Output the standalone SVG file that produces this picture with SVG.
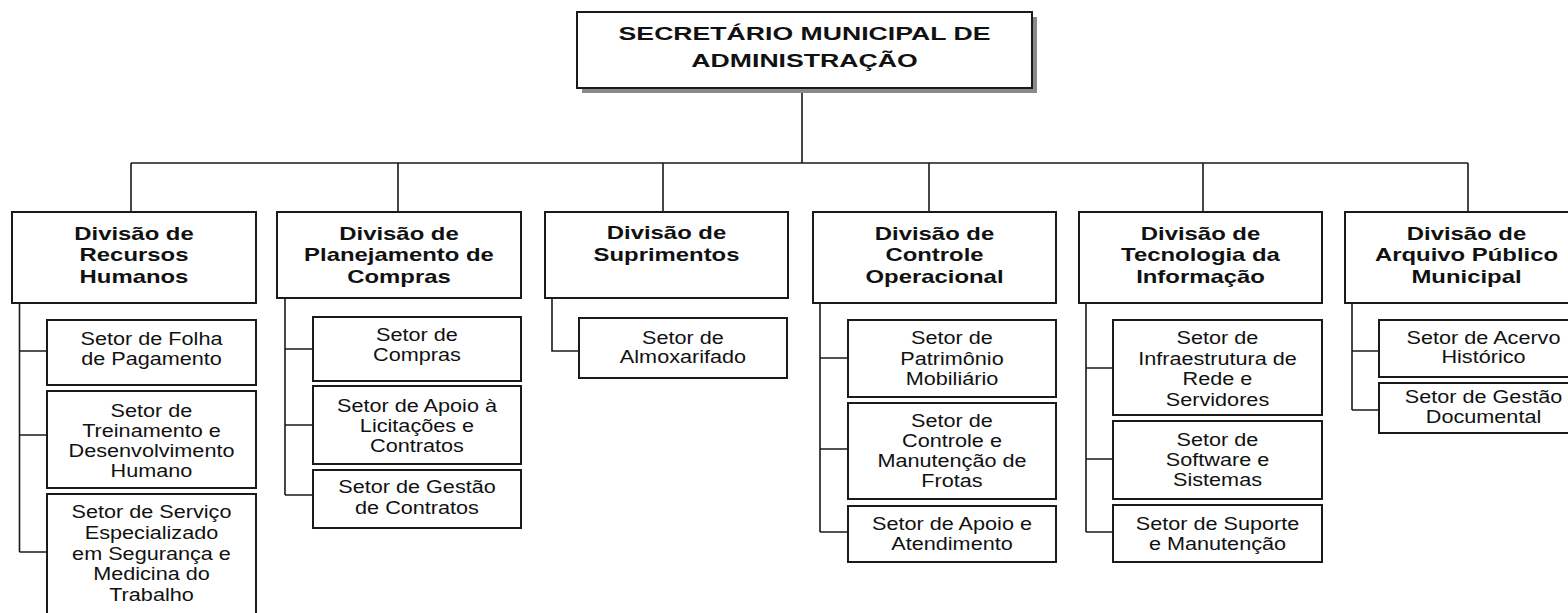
<svg xmlns="http://www.w3.org/2000/svg" width="1568" height="613" viewBox="0 0 1568 613">
<style>
.box{fill:#fff;stroke:#1a1a1a;stroke-width:2}
.shadow{fill:#8a8a8a}
.ln{stroke:#1a1a1a;stroke-width:1.6;fill:none}
text{font-family:"Liberation Sans",Arial,sans-serif;text-anchor:middle;fill:#111}
.r{font-size:18.5px}
.b{font-size:17.7px;font-weight:bold}
.t{font-size:18.5px;font-weight:bold}
</style>
<rect width="1568" height="613" fill="#fff"/>
<g id="connectors">
<path class="ln" d="M802,88V163M131,163H1468M131,163V212M398,163V212M663,163V212M929,163V212M1203,163V212M1468,163V212"/>
<path class="ln" d="M19.5,303V552M19.5,351H47M19.5,435H47M19.5,552H47"/>
<path class="ln" d="M285,298V495M285,349H313M285,425H313M285,495H313"/>
<path class="ln" d="M552,298V351H579"/>
<path class="ln" d="M820,303V532M820,358H848M820,449H848M820,532H848"/>
<path class="ln" d="M1086,303V532M1086,368H1113M1086,459H1113M1086,532H1113"/>
<path class="ln" d="M1352,303V410M1352,351H1379M1352,410H1379"/>
</g>
<g id="secretario">
<rect class="shadow" x="582" y="17" width="455" height="76"/>
<rect class="box" x="577" y="12" width="455" height="76"/>
<g transform="translate(804.5,0) scale(1.44,1)"><text class="t"><tspan x="0" y="40">SECRETÁRIO MUNICIPAL DE</tspan><tspan x="0" y="67">ADMINISTRAÇÃO</tspan></text></g>
</g>
<g id="div-rh">
<rect class="box" x="12" y="212" width="244" height="91"/>
<g transform="translate(134,0) scale(1.35,1)"><text class="b"><tspan x="0" y="240">Divisão de</tspan><tspan x="0" y="261.5">Recursos</tspan><tspan x="0" y="283">Humanos</tspan></text></g>
</g>
<g id="setor-folha">
<rect class="box" x="47" y="320" width="209" height="65"/>
<g transform="translate(151.5,0) scale(1.17,1)"><text class="r"><tspan x="0" y="345">Setor de Folha</tspan><tspan x="0" y="365">de Pagamento</tspan></text></g>
</g>
<g id="setor-treinamento">
<rect class="box" x="47" y="391" width="209" height="97"/>
<g transform="translate(151.5,0) scale(1.17,1)"><text class="r"><tspan x="0" y="417">Setor de</tspan><tspan x="0" y="437">Treinamento e</tspan><tspan x="0" y="457">Desenvolvimento</tspan><tspan x="0" y="477">Humano</tspan></text></g>
</g>
<g id="setor-sesmt">
<rect class="box" x="47" y="494" width="209" height="130"/>
<g transform="translate(151.5,0) scale(1.17,1)"><text class="r"><tspan x="0" y="518">Setor de Serviço</tspan><tspan x="0" y="539">Especializado</tspan><tspan x="0" y="560">em Segurança e</tspan><tspan x="0" y="580.5">Medicina do</tspan><tspan x="0" y="601">Trabalho</tspan></text></g>
</g>
<g id="div-compras">
<rect class="box" x="277" y="212" width="244" height="86"/>
<g transform="translate(399,0) scale(1.35,1)"><text class="b"><tspan x="0" y="240">Divisão de</tspan><tspan x="0" y="261.5">Planejamento de</tspan><tspan x="0" y="283">Compras</tspan></text></g>
</g>
<g id="setor-compras">
<rect class="box" x="313" y="317" width="208" height="64"/>
<g transform="translate(417,0) scale(1.17,1)"><text class="r"><tspan x="0" y="341">Setor de</tspan><tspan x="0" y="361">Compras</tspan></text></g>
</g>
<g id="setor-licitacoes">
<rect class="box" x="313" y="386" width="208" height="78"/>
<g transform="translate(417,0) scale(1.17,1)"><text class="r"><tspan x="0" y="411.7">Setor de Apoio à</tspan><tspan x="0" y="431.7">Licitações e</tspan><tspan x="0" y="451.7">Contratos</tspan></text></g>
</g>
<g id="setor-gestao-contratos">
<rect class="box" x="313" y="470" width="208" height="58"/>
<g transform="translate(417,0) scale(1.17,1)"><text class="r"><tspan x="0" y="493.5">Setor de Gestão</tspan><tspan x="0" y="514">de Contratos</tspan></text></g>
</g>
<g id="div-suprimentos">
<rect class="box" x="545" y="212" width="243" height="86"/>
<g transform="translate(666.5,0) scale(1.35,1)"><text class="b"><tspan x="0" y="239.5">Divisão de</tspan><tspan x="0" y="261">Suprimentos</tspan></text></g>
</g>
<g id="setor-almoxarifado">
<rect class="box" x="579" y="318" width="208" height="60"/>
<g transform="translate(683,0) scale(1.17,1)"><text class="r"><tspan x="0" y="344">Setor de</tspan><tspan x="0" y="363.5">Almoxarifado</tspan></text></g>
</g>
<g id="div-controle">
<rect class="box" x="813" y="212" width="243" height="91"/>
<g transform="translate(934.5,0) scale(1.35,1)"><text class="b"><tspan x="0" y="240">Divisão de</tspan><tspan x="0" y="261.5">Controle</tspan><tspan x="0" y="283">Operacional</tspan></text></g>
</g>
<g id="setor-patrimonio">
<rect class="box" x="848" y="320" width="208" height="77"/>
<g transform="translate(952,0) scale(1.17,1)"><text class="r"><tspan x="0" y="344.5">Setor de</tspan><tspan x="0" y="365">Patrimônio</tspan><tspan x="0" y="385">Mobiliário</tspan></text></g>
</g>
<g id="setor-frotas">
<rect class="box" x="848" y="403" width="208" height="96"/>
<g transform="translate(952,0) scale(1.17,1)"><text class="r"><tspan x="0" y="426.7">Setor de</tspan><tspan x="0" y="446.7">Controle e</tspan><tspan x="0" y="467.3">Manutenção de</tspan><tspan x="0" y="487.3">Frotas</tspan></text></g>
</g>
<g id="setor-atendimento">
<rect class="box" x="848" y="506" width="208" height="56"/>
<g transform="translate(952,0) scale(1.17,1)"><text class="r"><tspan x="0" y="530">Setor de Apoio e</tspan><tspan x="0" y="550">Atendimento</tspan></text></g>
</g>
<g id="div-ti">
<rect class="box" x="1079" y="212" width="243" height="91"/>
<g transform="translate(1200.5,0) scale(1.35,1)"><text class="b"><tspan x="0" y="240">Divisão de</tspan><tspan x="0" y="261.5">Tecnologia da</tspan><tspan x="0" y="283">Informação</tspan></text></g>
</g>
<g id="setor-infra">
<rect class="box" x="1113" y="320" width="209" height="95"/>
<g transform="translate(1217.5,0) scale(1.17,1)"><text class="r"><tspan x="0" y="344.5">Setor de</tspan><tspan x="0" y="365">Infraestrutura de</tspan><tspan x="0" y="385">Rede e</tspan><tspan x="0" y="406">Servidores</tspan></text></g>
</g>
<g id="setor-software">
<rect class="box" x="1113" y="421" width="209" height="78"/>
<g transform="translate(1217.5,0) scale(1.17,1)"><text class="r"><tspan x="0" y="446">Setor de</tspan><tspan x="0" y="466">Software e</tspan><tspan x="0" y="486">Sistemas</tspan></text></g>
</g>
<g id="setor-suporte">
<rect class="box" x="1113" y="505" width="209" height="57"/>
<g transform="translate(1217.5,0) scale(1.17,1)"><text class="r"><tspan x="0" y="530">Setor de Suporte</tspan><tspan x="0" y="550">e Manutenção</tspan></text></g>
</g>
<g id="div-arquivo">
<rect class="box" x="1345" y="212" width="243" height="91"/>
<g transform="translate(1466.5,0) scale(1.35,1)"><text class="b"><tspan x="0" y="240">Divisão de</tspan><tspan x="0" y="261.5">Arquivo Público</tspan><tspan x="0" y="283">Municipal</tspan></text></g>
</g>
<g id="setor-acervo">
<rect class="box" x="1379" y="320" width="209" height="57"/>
<g transform="translate(1483.5,0) scale(1.17,1)"><text class="r"><tspan x="0" y="344.5">Setor de Acervo</tspan><tspan x="0" y="363.5">Histórico</tspan></text></g>
</g>
<g id="setor-gestao-documental">
<rect class="box" x="1379" y="383" width="209" height="50"/>
<g transform="translate(1483.5,0) scale(1.17,1)"><text class="r"><tspan x="0" y="402.7">Setor de Gestão</tspan><tspan x="0" y="423.3">Documental</tspan></text></g>
</g>
</svg>
